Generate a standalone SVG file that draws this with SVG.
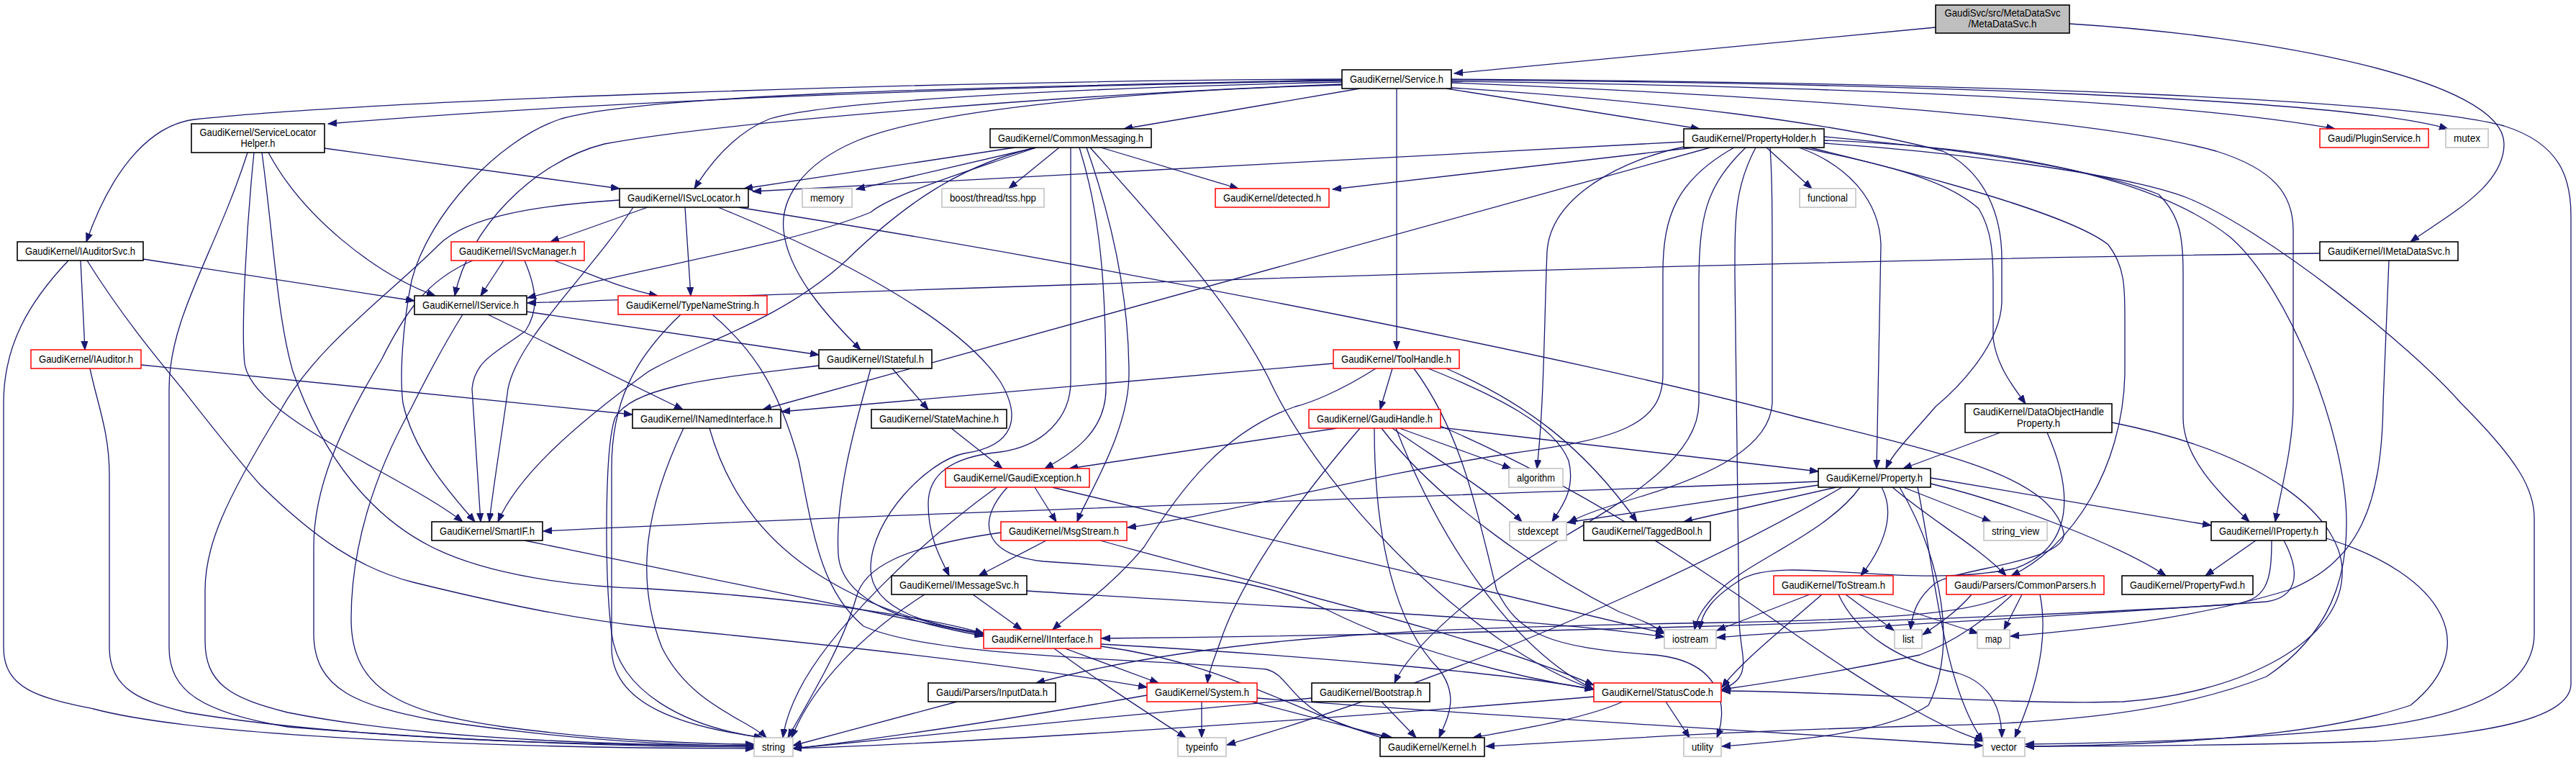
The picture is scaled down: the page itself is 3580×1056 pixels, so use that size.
<svg xmlns="http://www.w3.org/2000/svg" width="3580" height="1056" viewBox="0 0 3580 1056">
<style>
.e{fill:none;stroke:#191970;stroke-width:1.3;marker-end:url(#ah)}
.b rect{fill:#fff;stroke:#000;stroke-width:1.6}
.r rect{fill:#fff;stroke:#f00;stroke-width:1.5}
.g rect{fill:#fff;stroke:#bfbfbf;stroke-width:1.5}
.root rect{fill:#bfbfbf;stroke:#000;stroke-width:1.6}
text{font-family:"Liberation Sans",Arial,Helvetica,sans-serif;font-size:15px;fill:#000;text-anchor:middle}
</style>
<defs>
<marker id="ah" markerWidth="13" markerHeight="10" refX="12" refY="5" orient="auto" markerUnits="userSpaceOnUse">
<path d="M0,0.5 L12,5 L0,9.5 z" fill="#191970" stroke="#191970" stroke-width="1"/>
</marker>
</defs>
<rect width="3580" height="1056" fill="#fff"/>
<g id="edges">
<path class="e" d="M2690,38 L2021,102"/>
<path class="e" d="M2876,33 C3150,50 3480,110 3480,200 C3480,260 3400,300 3350,336"/>
<path class="e" d="M1865,112 C1500,118 900,135 456,172"/>
<path class="e" d="M1865,110 C1300,112 500,140 270,166 C200,175 150,250 120,336"/>
<path class="e" d="M1865,114 C1500,122 1150,140 1070,165 C1020,185 985,230 965,262"/>
<path class="e" d="M1865,117 C1500,130 1000,170 840,200 C740,225 650,320 632,411"/>
<path class="e" d="M1865,111 C1300,122 900,132 780,165 C690,195 595,300 572,390 C560,450 555,520 560,560 C575,630 630,690 660,725"/>
<path class="e" d="M1866,118 C1600,125 1300,150 1190,196 C1110,230 1085,280 1089,320 C1095,380 1150,440 1196,486"/>
<path class="e" d="M1890,123 L1562,179"/>
<path class="e" d="M2010,123 L2362,179"/>
<path class="e" d="M1941,123 L1941,486"/>
<path class="e" d="M2017,113 C2500,120 3000,135 3245,179"/>
<path class="e" d="M2017,111 C2600,115 3250,135 3402,179"/>
<path class="e" d="M2017,110 C2800,115 3350,140 3480,175 C3560,200 3573,250 3573,300 L3573,950 C3573,1000 3450,1020 3300,1030 C3100,1036 2900,1037 2815,1037"/>
<path class="e" d="M2017,115 C2400,130 2900,160 3080,210 C3160,235 3187,270 3187,320 L3187,560 C3187,620 3170,680 3162,725"/>
<path class="e" d="M2017,122 C2300,140 2550,170 2700,210 C2760,240 2782,300 2782,360 L2782,420 C2780,480 2720,540 2690,565 C2660,600 2630,630 2621,651"/>
<path class="e" d="M451,206 L861,262"/>
<path class="e" d="M373,212 C420,300 520,380 605,411"/>
<path class="e" d="M353,212 C342,320 335,460 340,505 C350,580 560,660 643,725"/>
<path class="e" d="M364,212 C380,330 385,440 407,516 C450,640 520,720 600,760 C680,800 800,815 900,818 C1100,830 1280,855 1367,880"/>
<path class="e" d="M344,212 C300,350 235,440 235,540 L235,900 C235,960 280,990 400,1010 C700,1035 950,1038 1048,1038"/>
<path class="e" d="M199,360 L576,418"/>
<path class="e" d="M112,362 L118,486"/>
<path class="e" d="M95,362 C40,420 5,480 5,560 L5,900 C5,960 60,970 130,985 C300,1030 800,1040 1048,1040"/>
<path class="e" d="M121,362 C170,440 220,500 253,540 C300,600 340,650 362,674 C440,750 500,790 574,809 C700,840 800,860 900,871 C1200,900 1450,930 1594,955"/>
<path class="e" d="M196,507 L879,576"/>
<path class="e" d="M125,512 C135,560 152,600 152,660 L152,900 C152,960 200,975 260,990 C500,1030 850,1036 1048,1036"/>
<path class="e" d="M900,288 L765,336"/>
<path class="e" d="M952,288 L960,411"/>
<path class="e" d="M880,288 C820,380 720,470 706,540 C698,600 685,680 680,725"/>
<path class="e" d="M861,278 C750,285 650,300 610,340 C540,410 440,480 390,570 C310,700 285,760 285,820 L285,890 C285,950 320,970 400,990 C600,1030 900,1036 1048,1036"/>
<path class="e" d="M1026,288 C1600,380 2200,500 2500,580 C2700,630 2850,660 2868,740 C2875,780 2720,790 2690,810 C2665,830 2658,850 2655,875"/>
<path class="e" d="M998,288 C1150,350 1330,440 1390,530 C1420,580 1410,620 1340,630 C1290,640 1210,720 1210,790 C1210,850 1300,870 1367,880"/>
<path class="e" d="M1410,205 L1034,262"/>
<path class="e" d="M1440,205 L1190,263"/>
<path class="e" d="M1472,205 L1402,262"/>
<path class="e" d="M1530,205 L1721,262"/>
<path class="e" d="M1440,205 C1340,240 1240,270 1210,295 C1100,340 900,370 733,414"/>
<path class="e" d="M1440,205 C1330,230 1250,290 1176,362 C1080,450 960,480 900,517 C800,590 720,660 692,725"/>
<path class="e" d="M1488,205 L1488,530 C1488,580 1450,620 1390,628 C1320,635 1290,660 1290,700 C1290,750 1310,780 1319,800"/>
<path class="e" d="M1500,205 C1530,300 1537,400 1537,540 C1537,600 1490,630 1452,651"/>
<path class="e" d="M1510,205 C1540,290 1569,400 1569,520 C1569,600 1510,690 1497,725"/>
<path class="e" d="M1515,205 C1600,300 1720,430 1770,540 C1850,700 2050,900 2215,958"/>
<path class="e" d="M2340,197 L1046,266"/>
<path class="e" d="M2355,205 L1852,263"/>
<path class="e" d="M2455,205 L2518,262"/>
<path class="e" d="M2377,205 L1060,569"/>
<path class="e" d="M2345,203 C2260,220 2155,270 2150,350 C2146,450 2146,560 2136,651"/>
<path class="e" d="M2410,205 C2330,250 2311,300 2311,380 L2311,520 C2311,590 2250,610 2100,630 C1900,660 1700,715 1567,733"/>
<path class="e" d="M2426,205 C2370,260 2361,300 2361,400 L2361,560 C2361,640 2250,700 2150,760 C2050,820 1960,900 1938,949"/>
<path class="e" d="M2460,205 C2463,250 2463,300 2463,380 L2463,560 C2460,620 2380,660 2280,690 C2230,705 2200,715 2180,726"/>
<path class="e" d="M2440,205 C2411,260 2411,300 2411,380 L2417,860 C2417,910 2440,940 2393,958"/>
<path class="e" d="M2500,205 C2570,230 2612,280 2614,340 L2608,651"/>
<path class="e" d="M2535,190 C2700,205 2900,230 3000,270 C3030,300 3034,330 3034,380 L3034,580 C3034,640 3090,690 3126,725"/>
<path class="e" d="M2504,205 C2600,225 2700,245 2750,290 C2768,320 2770,350 2770,400 L2770,470 C2775,510 2800,540 2815,561"/>
<path class="e" d="M2535,199 C2700,210 2950,240 3040,275 C3150,320 3350,480 3420,560 C3500,640 3522,680 3522,720 L3522,880 C3522,960 3420,995 3300,1010 C3100,1030 2900,1033 2815,1034"/>
<path class="e" d="M2515,205 C2700,250 2880,300 2930,340 C2953,370 2953,400 2953,440 L2953,520 C2950,650 2880,760 2795,800"/>
<path class="e" d="M2535,195 C2800,205 3000,250 3100,330 C3180,400 3260,600 3261,723 C3262,800 3240,880 3150,940 C3000,1000 2800,1005 2700,1008 C2400,1015 2200,1030 2065,1037"/>
<path class="e" d="M3224,352 C2500,360 1500,395 733,421"/>
<path class="e" d="M3320,362 L3312,560 C3310,700 3280,780 3180,820 C3050,860 2900,875 2794,884"/>
<path class="e" d="M678,437 L949,569"/>
<path class="e" d="M732,433 L1138,493"/>
<path class="e" d="M643,437 C610,490 585,540 570,570 C520,660 488,760 488,860 C488,960 560,990 700,1010 C850,1030 980,1034 1048,1034"/>
<path class="e" d="M700,362 L668,411"/>
<path class="e" d="M770,362 C820,380 860,400 914,411"/>
<path class="e" d="M657,362 C590,390 560,440 530,500 C470,600 436,680 436,760 L436,880 C436,960 500,980 600,1000 C800,1030 950,1036 1048,1036"/>
<path class="e" d="M729,362 C745,400 750,430 730,460 C690,490 660,500 656,540 L668,725"/>
<path class="e" d="M946,437 C880,500 850,560 850,650 L850,900 C850,980 950,1010 1060,1025"/>
<path class="e" d="M990,437 C1040,480 1080,530 1110,640 C1130,740 1140,820 1200,870 C1300,915 1600,915 1760,930 C1800,940 1790,1000 1935,1025"/>
<path class="e" d="M1240,512 L1290,569"/>
<path class="e" d="M1210,512 C1195,570 1160,680 1165,770 C1170,850 1300,870 1367,884"/>
<path class="e" d="M1138,508 C1000,525 880,535 855,580 C840,620 840,800 850,880 C860,960 950,1010 1060,1025"/>
<path class="e" d="M1853,505 L1086,572"/>
<path class="e" d="M1935,512 L1918,569"/>
<path class="e" d="M1912,512 C1860,545 1820,560 1800,565 C1700,600 1640,680 1590,760 C1540,820 1490,850 1463,875"/>
<path class="e" d="M1985,512 C2080,550 2160,590 2180,640 C2190,680 2170,705 2157,725"/>
<path class="e" d="M2010,512 C2120,560 2200,620 2275,725"/>
<path class="e" d="M1965,512 C2030,600 2050,700 2080,820 C2110,880 2150,900 2300,910 C2400,920 2400,990 2386,1025"/>
<path class="e" d="M950,595 C900,700 880,800 920,900 C960,980 1040,1000 1065,1025"/>
<path class="e" d="M986,595 C1010,680 1060,750 1140,800 C1220,850 1300,870 1367,880"/>
<path class="e" d="M1322,595 L1393,651"/>
<path class="e" d="M1858,595 L1486,651"/>
<path class="e" d="M1945,595 L2100,651"/>
<path class="e" d="M2002,594 L2527,655"/>
<path class="e" d="M1935,595 C2000,640 2080,690 2115,725"/>
<path class="e" d="M1890,595 C1800,700 1730,800 1700,880 C1690,910 1680,930 1678,949"/>
<path class="e" d="M1920,595 C2000,700 2150,800 2250,850 C2290,865 2300,870 2313,880"/>
<path class="e" d="M1910,595 C1910,750 1940,870 2000,930 C2030,970 2010,1000 2000,1025"/>
<path class="e" d="M2002,592 C2300,720 2500,900 2650,980 C2700,1010 2730,1020 2756,1030"/>
<path class="e" d="M1940,595 C2000,750 2100,900 2215,958"/>
<path class="e" d="M2780,601 L2645,651"/>
<path class="e" d="M2845,601 C2880,680 2885,760 2800,790 C2650,820 2480,770 2420,805 C2380,830 2365,850 2362,875"/>
<path class="e" d="M2935,587 C3150,630 3260,720 3255,800 C3250,900 3100,965 2950,975 C2800,980 2550,960 2393,960"/>
<path class="e" d="M1438,677 L1468,725"/>
<path class="e" d="M1385,677 C1270,760 1150,880 1110,960 C1095,990 1090,1010 1088,1025"/>
<path class="e" d="M1462,677 L2313,880"/>
<path class="e" d="M1400,677 C1360,720 1360,770 1450,780 C1600,790 1750,800 1850,850 C1950,900 2100,940 2215,958"/>
<path class="e" d="M729,751 L1367,882"/>
<path class="e" d="M1454,751 L1360,800"/>
<path class="e" d="M1391,740 C1250,760 1200,790 1190,830 C1170,900 1120,980 1095,1025"/>
<path class="e" d="M1529,751 C1700,800 2050,880 2215,952"/>
<path class="e" d="M1352,826 L1420,875"/>
<path class="e" d="M1285,826 C1200,880 1130,950 1100,1025"/>
<path class="e" d="M1427,821 C1800,845 2150,860 2313,885"/>
<path class="e" d="M2515,826 L2386,876"/>
<path class="e" d="M2565,826 L2632,876"/>
<path class="e" d="M2583,826 L2749,880"/>
<path class="e" d="M2555,826 C2580,880 2640,920 2720,935 C2770,950 2782,990 2782,1025"/>
<path class="e" d="M2532,826 C2470,880 2420,920 2393,955"/>
<path class="e" d="M2527,669 C2000,690 1200,715 755,738"/>
<path class="e" d="M2527,674 L2178,726"/>
<path class="e" d="M2552,677 L2340,725"/>
<path class="e" d="M2585,677 C2540,740 2430,780 2390,820 C2365,845 2358,860 2355,875"/>
<path class="e" d="M2615,677 C2638,720 2610,770 2586,800"/>
<path class="e" d="M2645,677 L2767,725"/>
<path class="e" d="M2683,672 C2800,700 2950,760 3010,800"/>
<path class="e" d="M2683,664 L3073,730"/>
<path class="e" d="M2630,677 C2680,720 2750,760 2788,800"/>
<path class="e" d="M2560,677 C2350,800 2000,950 1705,1035"/>
<path class="e" d="M2640,677 C2700,780 2720,900 2680,980 C2620,1020 2480,1030 2393,1037"/>
<path class="e" d="M2665,677 C2690,800 2700,950 2756,1030"/>
<path class="e" d="M3135,751 L3065,800"/>
<path class="e" d="M3157,751 C3157,810 3150,835 3100,840 C2700,865 2000,882 1531,887"/>
<path class="e" d="M3174,751 C3200,800 3190,830 3150,836 C2900,855 2500,875 2386,886"/>
<path class="e" d="M3233,748 C3400,800 3450,900 3350,980 C3200,1030 2950,1036 2815,1037"/>
<path class="e" d="M2790,826 C2750,850 2650,860 2400,865 C2000,872 1700,880 1440,949"/>
<path class="e" d="M2740,826 C2720,850 2690,870 2672,882"/>
<path class="e" d="M2810,826 L2785,875"/>
<path class="e" d="M2835,826 C2850,900 2820,980 2800,1025"/>
<path class="e" d="M2797,826 C2760,860 2720,890 2668,910 C2550,935 2450,950 2393,958"/>
<path class="e" d="M1330,975 L1102,1036"/>
<path class="e" d="M1594,966 C1400,1000 1200,1030 1102,1040"/>
<path class="e" d="M1670,975 L1670,1025"/>
<path class="e" d="M1740,975 L1932,1025"/>
<path class="e" d="M1747,970 C2000,990 2500,1020 2756,1036"/>
<path class="e" d="M1480,901 L1610,949"/>
<path class="e" d="M1465,901 C1530,950 1610,1000 1648,1025"/>
<path class="e" d="M1530,895 C1800,910 2100,935 2215,958"/>
<path class="e" d="M1530,898 C1700,920 1800,990 1930,1028"/>
<path class="e" d="M1920,975 L1968,1025"/>
<path class="e" d="M1823,970 C1600,990 1300,1020 1102,1040"/>
<path class="e" d="M2255,975 C2200,1000 2100,1015 2047,1025"/>
<path class="e" d="M2315,975 L2348,1025"/>
<path class="e" d="M2215,968 C1900,995 1400,1030 1102,1040"/>
</g>
<g id="nodes">
<g id="n_MetaDataSvc" class="root"><rect x="2690" y="7" width="186" height="39"/><text x="2783" y="23" textLength="161" lengthAdjust="spacingAndGlyphs">GaudiSvc/src/MetaDataSvc</text><text x="2783" y="38" textLength="95" lengthAdjust="spacingAndGlyphs">/MetaDataSvc.h</text></g>
<g id="n_Service" class="b"><rect x="1865" y="97" width="152" height="26"/><text x="1941" y="115" textLength="130" lengthAdjust="spacingAndGlyphs">GaudiKernel/Service.h</text></g>
<g id="n_ServiceLocatorHelper" class="b"><rect x="266" y="172" width="185" height="40"/><text x="358.5" y="189" textLength="162" lengthAdjust="spacingAndGlyphs">GaudiKernel/ServiceLocator</text><text x="358.5" y="204" textLength="48" lengthAdjust="spacingAndGlyphs">Helper.h</text></g>
<g id="n_CommonMessaging" class="b"><rect x="1376" y="179" width="224" height="26"/><text x="1488" y="197" textLength="202" lengthAdjust="spacingAndGlyphs">GaudiKernel/CommonMessaging.h</text></g>
<g id="n_PropertyHolder" class="b"><rect x="2340" y="179" width="195" height="26"/><text x="2437.5" y="197" textLength="173" lengthAdjust="spacingAndGlyphs">GaudiKernel/PropertyHolder.h</text></g>
<g id="n_PluginService" class="r"><rect x="3224" y="179" width="151" height="26"/><text x="3299.5" y="197" textLength="129" lengthAdjust="spacingAndGlyphs">Gaudi/PluginService.h</text></g>
<g id="n_mutex" class="g"><rect x="3399" y="179" width="59" height="26"/><text x="3428.5" y="197" textLength="37" lengthAdjust="spacingAndGlyphs">mutex</text></g>
<g id="n_ISvcLocator" class="b"><rect x="861" y="262" width="179" height="26"/><text x="950.5" y="280" textLength="157" lengthAdjust="spacingAndGlyphs">GaudiKernel/ISvcLocator.h</text></g>
<g id="n_memory" class="g"><rect x="1115" y="262" width="69" height="26"/><text x="1149.5" y="280" textLength="47" lengthAdjust="spacingAndGlyphs">memory</text></g>
<g id="n_tss" class="g"><rect x="1309" y="262" width="142" height="26"/><text x="1380" y="280" textLength="120" lengthAdjust="spacingAndGlyphs">boost/thread/tss.hpp</text></g>
<g id="n_detected" class="r"><rect x="1689" y="262" width="158" height="26"/><text x="1768" y="280" textLength="136" lengthAdjust="spacingAndGlyphs">GaudiKernel/detected.h</text></g>
<g id="n_functional" class="g"><rect x="2501" y="262" width="78" height="26"/><text x="2540" y="280" textLength="56" lengthAdjust="spacingAndGlyphs">functional</text></g>
<g id="n_IAuditorSvc" class="b"><rect x="24" y="336" width="175" height="26"/><text x="111.5" y="354" textLength="153" lengthAdjust="spacingAndGlyphs">GaudiKernel/IAuditorSvc.h</text></g>
<g id="n_ISvcManager" class="r"><rect x="627" y="336" width="185" height="26"/><text x="719.5" y="354" textLength="163" lengthAdjust="spacingAndGlyphs">GaudiKernel/ISvcManager.h</text></g>
<g id="n_IMetaDataSvc" class="b"><rect x="3224" y="336" width="192" height="26"/><text x="3320" y="354" textLength="170" lengthAdjust="spacingAndGlyphs">GaudiKernel/IMetaDataSvc.h</text></g>
<g id="n_IService" class="b"><rect x="576" y="411" width="156" height="26"/><text x="654" y="429" textLength="134" lengthAdjust="spacingAndGlyphs">GaudiKernel/IService.h</text></g>
<g id="n_TypeNameString" class="r"><rect x="859" y="411" width="207" height="26"/><text x="962.5" y="429" textLength="185" lengthAdjust="spacingAndGlyphs">GaudiKernel/TypeNameString.h</text></g>
<g id="n_IAuditor" class="r"><rect x="43" y="486" width="153" height="26"/><text x="119.5" y="504" textLength="131" lengthAdjust="spacingAndGlyphs">GaudiKernel/IAuditor.h</text></g>
<g id="n_IStateful" class="b"><rect x="1138" y="486" width="157" height="26"/><text x="1216.5" y="504" textLength="135" lengthAdjust="spacingAndGlyphs">GaudiKernel/IStateful.h</text></g>
<g id="n_ToolHandle" class="r"><rect x="1853" y="486" width="175" height="26"/><text x="1940.5" y="504" textLength="153" lengthAdjust="spacingAndGlyphs">GaudiKernel/ToolHandle.h</text></g>
<g id="n_INamedInterface" class="b"><rect x="879" y="569" width="206" height="26"/><text x="982" y="587" textLength="184" lengthAdjust="spacingAndGlyphs">GaudiKernel/INamedInterface.h</text></g>
<g id="n_StateMachine" class="b"><rect x="1211" y="569" width="188" height="26"/><text x="1305" y="587" textLength="166" lengthAdjust="spacingAndGlyphs">GaudiKernel/StateMachine.h</text></g>
<g id="n_GaudiHandle" class="r"><rect x="1819" y="569" width="183" height="26"/><text x="1910.5" y="587" textLength="161" lengthAdjust="spacingAndGlyphs">GaudiKernel/GaudiHandle.h</text></g>
<g id="n_DataObjectHandleProperty" class="b"><rect x="2731" y="561" width="204" height="40"/><text x="2833" y="577" textLength="182" lengthAdjust="spacingAndGlyphs">GaudiKernel/DataObjectHandle</text><text x="2833" y="593" textLength="60" lengthAdjust="spacingAndGlyphs">Property.h</text></g>
<g id="n_GaudiException" class="r"><rect x="1314" y="651" width="200" height="26"/><text x="1414" y="669" textLength="178" lengthAdjust="spacingAndGlyphs">GaudiKernel/GaudiException.h</text></g>
<g id="n_algorithm" class="g"><rect x="2097" y="651" width="75" height="26"/><text x="2134.5" y="669" textLength="53" lengthAdjust="spacingAndGlyphs">algorithm</text></g>
<g id="n_Property" class="b"><rect x="2527" y="651" width="156" height="26"/><text x="2605" y="669" textLength="134" lengthAdjust="spacingAndGlyphs">GaudiKernel/Property.h</text></g>
<g id="n_SmartIF" class="b"><rect x="600" y="725" width="154" height="26"/><text x="677" y="743" textLength="132" lengthAdjust="spacingAndGlyphs">GaudiKernel/SmartIF.h</text></g>
<g id="n_MsgStream" class="r"><rect x="1391" y="725" width="175" height="26"/><text x="1478.5" y="743" textLength="153" lengthAdjust="spacingAndGlyphs">GaudiKernel/MsgStream.h</text></g>
<g id="n_stdexcept" class="g"><rect x="2098" y="725" width="79" height="26"/><text x="2137.5" y="743" textLength="57" lengthAdjust="spacingAndGlyphs">stdexcept</text></g>
<g id="n_TaggedBool" class="b"><rect x="2201" y="725" width="176" height="26"/><text x="2289" y="743" textLength="154" lengthAdjust="spacingAndGlyphs">GaudiKernel/TaggedBool.h</text></g>
<g id="n_string_view" class="g"><rect x="2757" y="725" width="88" height="26"/><text x="2801" y="743" textLength="66" lengthAdjust="spacingAndGlyphs">string_view</text></g>
<g id="n_IProperty" class="b"><rect x="3073" y="725" width="160" height="26"/><text x="3153" y="743" textLength="138" lengthAdjust="spacingAndGlyphs">GaudiKernel/IProperty.h</text></g>
<g id="n_IMessageSvc" class="b"><rect x="1239" y="800" width="188" height="26"/><text x="1333" y="818" textLength="166" lengthAdjust="spacingAndGlyphs">GaudiKernel/IMessageSvc.h</text></g>
<g id="n_ToStream" class="r"><rect x="2465" y="800" width="166" height="26"/><text x="2548" y="818" textLength="144" lengthAdjust="spacingAndGlyphs">GaudiKernel/ToStream.h</text></g>
<g id="n_CommonParsers" class="r"><rect x="2705" y="800" width="219" height="26"/><text x="2814.5" y="818" textLength="197" lengthAdjust="spacingAndGlyphs">Gaudi/Parsers/CommonParsers.h</text></g>
<g id="n_PropertyFwd" class="b"><rect x="2949" y="800" width="182" height="26"/><text x="3040" y="818" textLength="160" lengthAdjust="spacingAndGlyphs">GaudiKernel/PropertyFwd.h</text></g>
<g id="n_IInterface" class="r"><rect x="1367" y="875" width="163" height="26"/><text x="1448.5" y="893" textLength="141" lengthAdjust="spacingAndGlyphs">GaudiKernel/IInterface.h</text></g>
<g id="n_iostream" class="g"><rect x="2313" y="875" width="72" height="26"/><text x="2349" y="893" textLength="50" lengthAdjust="spacingAndGlyphs">iostream</text></g>
<g id="n_list" class="g"><rect x="2633" y="875" width="38" height="26"/><text x="2652" y="893" textLength="16" lengthAdjust="spacingAndGlyphs">list</text></g>
<g id="n_map" class="g"><rect x="2748" y="875" width="45" height="26"/><text x="2770.5" y="893" textLength="23" lengthAdjust="spacingAndGlyphs">map</text></g>
<g id="n_InputData" class="b"><rect x="1290" y="949" width="177" height="26"/><text x="1378.5" y="967" textLength="155" lengthAdjust="spacingAndGlyphs">Gaudi/Parsers/InputData.h</text></g>
<g id="n_System" class="r"><rect x="1594" y="949" width="153" height="26"/><text x="1670.5" y="967" textLength="131" lengthAdjust="spacingAndGlyphs">GaudiKernel/System.h</text></g>
<g id="n_Bootstrap" class="b"><rect x="1823" y="949" width="164" height="26"/><text x="1905" y="967" textLength="142" lengthAdjust="spacingAndGlyphs">GaudiKernel/Bootstrap.h</text></g>
<g id="n_StatusCode" class="r"><rect x="2215" y="949" width="177" height="26"/><text x="2303.5" y="967" textLength="155" lengthAdjust="spacingAndGlyphs">GaudiKernel/StatusCode.h</text></g>
<g id="n_string" class="g"><rect x="1048" y="1025" width="54" height="26"/><text x="1075" y="1043" textLength="32" lengthAdjust="spacingAndGlyphs">string</text></g>
<g id="n_typeinfo" class="g"><rect x="1637" y="1025" width="67" height="26"/><text x="1670.5" y="1043" textLength="45" lengthAdjust="spacingAndGlyphs">typeinfo</text></g>
<g id="n_Kernel" class="b"><rect x="1918" y="1025" width="145" height="26"/><text x="1990.5" y="1043" textLength="123" lengthAdjust="spacingAndGlyphs">GaudiKernel/Kernel.h</text></g>
<g id="n_utility" class="g"><rect x="2340" y="1025" width="52" height="26"/><text x="2366" y="1043" textLength="30" lengthAdjust="spacingAndGlyphs">utility</text></g>
<g id="n_vector" class="g"><rect x="2756" y="1025" width="58" height="26"/><text x="2785" y="1043" textLength="36" lengthAdjust="spacingAndGlyphs">vector</text></g>
</g>
</svg>
